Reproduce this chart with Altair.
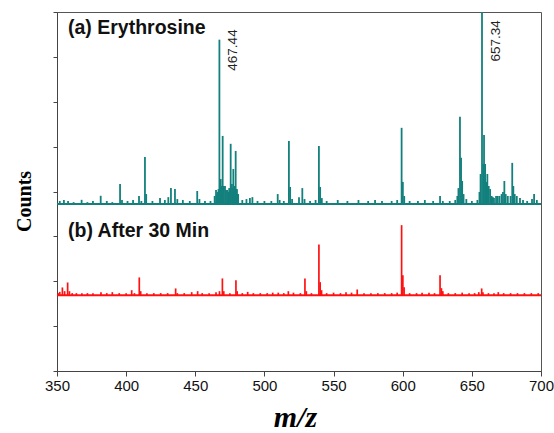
import altair as alt
import pandas as pd

# ---------------- data (relative intensities, %) ----------------
teal_mz = [352, 355, 358, 362, 367.8, 372, 376, 381.6, 386, 390, 395.6, 397, 401, 405,
           409.3, 411, 413.6, 414.5, 419, 424.5, 428, 430.5, 432.4, 435.3, 437, 441, 446,
           451.4, 453, 457, 461, 464, 465, 465.6, 466.2, 466.8, 467.44, 468.4, 469.2, 469.8,
           470.6, 471.5, 472.2, 473, 473.8, 474.5, 475, 475.6, 476.5, 477, 477.5, 478, 478.4,
           479.2, 479.8, 480.1, 480.6, 481, 484, 487, 489.5, 491.3,
           495, 500, 505, 509.6, 511, 514, 517.7, 518.6, 520, 525, 527.4, 529, 533, 537,
           539.4, 540.3, 541.5, 545, 553, 560, 568, 575, 580, 585, 592, 596, 599.2, 600.1,
           601.1, 605, 611, 616, 622, 627, 629, 634, 638, 639.5, 640.3, 641.4, 642.2, 643,
           644, 646, 650, 654, 655.5, 656.3, 657.34, 658.2, 658.8, 659.6, 660.3, 661.2, 662.2,
           663.2, 664.3, 665.2, 666, 667.5, 668.7, 670, 671.5, 672.5, 673.5, 674.5, 676,
           678, 679.2, 680, 681, 682.5, 684.8, 687, 690, 693.5, 695, 697]
teal_pct = [1.6, 2.1, 1.6, 1.0, 2.2, 1.0, 1.6, 4.3, 1.6, 1.0, 10.4, 2.1, 1.6, 2.1,
            4.2, 1.6, 24.5, 5.2, 1.6, 3.1, 2.1, 3.6, 8.3, 7.8, 2.6, 2.1, 1.6,
            6.8, 2.6, 1.6, 1.6, 4.2, 7.3, 5.2, 6.3, 7.8, 85.4, 13.0, 9.4, 35.4,
            9.4, 9.4, 7.3, 7.3, 6.3, 8.3, 7.8, 31.3, 10.4, 8.3, 18.2, 6.3, 9.4,
            27.6, 7.3, 7.8, 5.2, 5.2, 2.1, 2.6, 3.1, 3.6,
            1.6, 1.6, 1.6, 5.2, 2.1, 1.6, 32.8, 8.9, 2.6, 3.6, 8.3, 2.6, 1.6, 2.1,
            30.2, 8.9, 3.1, 1.6, 2.1, 1.6, 2.1, 1.6, 2.1, 1.6, 1.6, 2.1, 39.6, 11.5,
            4.2, 1.6, 1.6, 2.1, 1.6, 4.2, 1.6, 1.6, 2.1, 4.2, 8.3, 45.3, 24.0, 12.0,
            5.2, 2.6, 1.6, 2.1, 6.3, 15.6, 100.0, 20.8, 35.9, 20.8, 11.5, 15.6, 9.4,
            7.8, 4.2, 3.6, 3.1, 4.2, 4.2, 4.2, 5.2, 6.3, 12.0, 5.2, 4.2,
            4.2, 21.4, 9.4, 5.2, 4.2, 3.1, 2.1, 1.6, 2.6, 5.2, 2.1]

red_mz = [351, 352, 353.9, 355.5, 357.7, 359, 361, 364, 368, 372, 376, 381.8, 386, 390,
          395, 400, 404, 406, 409.5, 410.5, 415, 420, 425, 430, 435.8, 437, 442, 447.4,
          451.7, 455, 460, 465, 467.5, 469.6, 470.6, 475, 479.4, 480.3, 484, 487.9, 492,
          497, 502, 506, 510, 514, 517.3, 521, 526, 529.3, 530.3, 534, 539.4, 540.3,
          541.3, 545, 550, 555, 559, 563, 567.1, 572, 577, 582, 587, 592, 596, 599.2,
          600.1, 601, 605, 610, 614, 619, 623, 627, 628, 629, 633, 638, 643, 648, 652,
          655, 657.1, 658, 662, 666, 669.1, 673, 678, 683, 688, 693, 698]
red_pct = [2.9, 4.7, 11.0, 5.7, 18.1, 5.7, 2.9, 2.9, 2.9, 2.9, 2.9, 4.3, 2.9, 4.3,
           2.9, 2.9, 7.1, 2.9, 25.3, 5.7, 2.9, 2.9, 2.9, 2.9, 9.6, 2.9, 2.9, 4.3,
           5.7, 2.9, 2.9, 4.3, 5.7, 23.9, 5.7, 2.9, 21.4, 5.7, 2.9, 4.7, 2.9,
           2.9, 2.9, 3.6, 3.6, 2.9, 5.7, 3.6, 2.9, 23.9, 5.7, 2.9, 72.4, 18.6,
           7.1, 2.9, 3.6, 2.9, 4.3, 3.6, 8.1, 2.9, 2.9, 2.9, 2.9, 2.9, 3.6, 100.0,
           28.6, 11.4, 2.9, 2.9, 3.6, 3.6, 2.9, 28.6, 10.0, 5.7, 2.9, 2.9, 3.6, 2.9, 2.9,
           4.3, 9.6, 4.3, 2.9, 2.9, 4.3, 2.9, 2.9, 2.9, 2.9, 2.9, 2.9]

label_mz = [467.44, 657.34]
label_text = ["467.44", "657.34"]
label_pct = [69.3, 74.0]   # where each rotated label starts (teal scale)

panel_names = ["(a) Erythrosine", "(b) After 30 Min"]

x_ticks = [350, 375, 400, 425, 450, 475, 500, 525, 550, 575, 600, 625, 650, 675, 700]
y_ticks = [0, 100, 200, 300, 400, 500, 600, 700, 800]

# ---------------- layout of the two stacked spectra ----------------
TEAL, RED = "#13807d", "#ff1111"
TEAL_BASE, TEAL_SCALE = 372, 4.29
RED_BASE, RED_SCALE = 169, 1.56

teal = pd.DataFrame({"mz": teal_mz, "pct": teal_pct})
teal["y0"] = TEAL_BASE
teal["y1"] = TEAL_BASE + teal["pct"] * TEAL_SCALE
red = pd.DataFrame({"mz": red_mz, "pct": red_pct})
red["y0"] = RED_BASE
red["y1"] = RED_BASE + red["pct"] * RED_SCALE

base_df = pd.DataFrame({"x": [350, 350], "x2": [700, 700],
                        "y": [TEAL_BASE, RED_BASE], "c": [TEAL, RED]})
labels = pd.DataFrame({"mz": label_mz, "t": label_text,
                       "y": [TEAL_BASE + p * TEAL_SCALE for p in label_pct]})

xscale = alt.Scale(domain=[350, 700], nice=False, zero=False)
yscale = alt.Scale(domain=[0, 800], nice=False, zero=False)

xaxis = alt.Axis(values=x_ticks, title="m/z",
                 labelExpr="datum.value % 50 === 0 ? datum.label : ''",
                 labelFont="Liberation Sans", labelFontSize=15, labelColor="#111",
                 labelPadding=2, labelFlush=False, labelOverlap=False,
                 tickSize={"condition": {"test": "datum.value % 50 === 0", "value": 5}, "value": 3},
                 tickColor="#444", domainColor="#444", grid=False,
                 titleFont="Liberation Serif", titleFontSize=30, titleFontWeight="bold",
                 titleFontStyle="italic", titleColor="#000",
                 titleBaseline="alphabetic", titleY=55, titleX=238)
yaxis = alt.Axis(values=y_ticks, labels=False, tickSize=4, tickColor="#444",
                 domainColor="#444", grid=False, title="Counts",
                 titleFont="Liberation Serif", titleFontSize=20, titleFontWeight="bold",
                 titleColor="#000", titleAngle=270, titleAlign="center",
                 titleBaseline="alphabetic", titleX=-27, titleY=189)

teal_rules = alt.Chart(teal).mark_rule(color=TEAL, strokeWidth=1.8, clip=True).encode(
    x=alt.X("mz:Q", scale=xscale, axis=xaxis),
    y=alt.Y("y1:Q", scale=yscale, axis=yaxis),
    y2="y0:Q",
)
red_rules = alt.Chart(red).mark_rule(color=RED, strokeWidth=1.7, clip=True).encode(
    x="mz:Q", y="y1:Q", y2="y0:Q")

baselines = alt.Chart(base_df).mark_rule(strokeWidth=2).encode(
    x="x:Q", x2="x2:Q", y="y:Q",
    color=alt.Color("c:N", scale=None, legend=None))

peak_labels = alt.Chart(labels).mark_text(
    angle=270, align="left", baseline="middle", dy=14,
    font="Liberation Sans", fontSize=13.5, color="#222").encode(
    x="mz:Q", y="y:Q", text="t:N")

panel_a = alt.Chart(pd.DataFrame({"t": [panel_names[0]]})).mark_text(
    align="left", baseline="alphabetic", font="Liberation Sans", fontSize=19.5,
    fontWeight="bold", color="#111").encode(
    x=alt.value(11), y=alt.value(22), text="t:N")
panel_b = alt.Chart(pd.DataFrame({"t": [panel_names[1]]})).mark_text(
    align="left", baseline="alphabetic", font="Liberation Sans", fontSize=19.5,
    fontWeight="bold", color="#111").encode(
    x=alt.value(11), y=alt.value(225), text="t:N")

chart = alt.layer(baselines, teal_rules, red_rules, peak_labels, panel_a, panel_b).properties(
    width=484, height=359,
    autosize=alt.AutoSizeParams(type="none"),
    padding={"left": 57, "top": 12, "right": 13, "bottom": 62},
    background="white",
).configure_view(stroke="#555", strokeWidth=1)

chart.save("out.html", embed_options={"renderer": "svg", "actions": False})
